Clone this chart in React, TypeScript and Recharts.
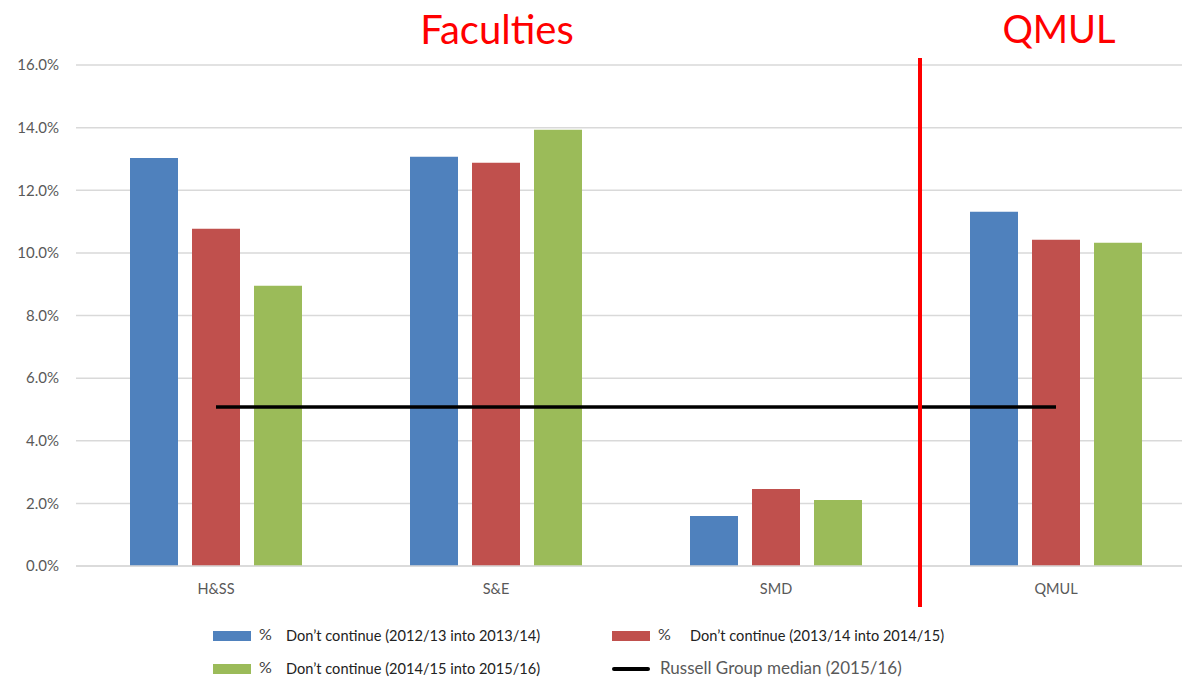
import { ComposedChart, Bar, Line, XAxis, YAxis, CartesianGrid } from 'recharts'

const CATEGORIES = ['H&SS', 'S&E', 'SMD', 'QMUL']
const CONT_2012 = [13.03, 13.07, 1.6, 11.31]
const CONT_2013 = [10.77, 12.88, 2.46, 10.42]
const CONT_2014 = [8.95, 13.93, 2.11, 10.32]
const RG_MEDIAN = [5.08, 5.08, 5.08, 5.08]
const Y_TICKS = [0, 2, 4, 6, 8, 10, 12, 14, 16]

const BLUE = '#4f81bd'
const RED = '#c0504d'
const GREEN = '#9bbb59'
const FONT = 'Lato, "Open Sans", sans-serif'

const data = CATEGORIES.map((name, i) => ({
  name,
  c2012: CONT_2012[i],
  c2013: CONT_2013[i],
  c2014: CONT_2014[i],
  median: RG_MEDIAN[i],
}))

function LegendItem({ x, y, swatch, pct, label, labelX, line }: any) {
  return (
    <>
      {line ? (
        <div style={{ position: 'absolute', left: x, top: y - 2, width: 38, height: 4, background: '#000', borderRadius: 2 }} />
      ) : (
        <div style={{ position: 'absolute', left: x, top: y - 5, width: 38, height: 10, background: swatch }} />
      )}
      {pct && (
        <span style={{ position: 'absolute', left: x + 46, top: y - 12, fontSize: 16, color: '#404040' }}>%</span>
      )}
      <span
        style={{
          position: 'absolute',
          left: labelX,
          top: y - (line ? 12 : 9),
          fontSize: line ? 17 : 14.6,
          color: line ? '#595959' : '#222',
          whiteSpace: 'nowrap',
        }}
      >
        {label}
      </span>
    </>
  )
}

export default function App() {
  return (
    <div
      style={{
        position: 'fixed',
        left: 0,
        top: 0,
        width: 1182,
        height: 681,
        overflow: 'hidden',
        background: '#fff',
        fontFamily: FONT,
      }}
    >
      <ComposedChart
        width={1196}
        height={681}
        data={data}
        margin={{ top: 65, right: 0, bottom: 85, left: 0 }}
        barCategoryGap={54}
        barGap={14}
      >
        <CartesianGrid vertical={false} stroke="#d9d9d9" strokeWidth={1.5} />
        <XAxis
          dataKey="name"
          height={30}
          tickSize={0}
          tickMargin={18}
          axisLine={{ stroke: '#d9d9d9', strokeWidth: 1.5 }}
          tick={{ fill: '#595959', fontSize: 14.5, fontFamily: FONT }}
        />
        <YAxis
          width={76}
          domain={[0, 16]}
          ticks={Y_TICKS}
          tickFormatter={(v: number) => `${v.toFixed(1)}%`}
          axisLine={false}
          tickSize={0}
          tickMargin={17}
          tick={{ fill: '#595959', fontSize: 15, fontFamily: FONT }}
        />
        <Bar dataKey="c2012" fill={BLUE} isAnimationActive={false} />
        <Bar dataKey="c2013" fill={RED} isAnimationActive={false} />
        <Bar dataKey="c2014" fill={GREEN} isAnimationActive={false} />
        <Line
          dataKey="median"
          stroke="#000"
          strokeWidth={3.5}
          dot={false}
          activeDot={false}
          isAnimationActive={false}
        />
      </ComposedChart>

      {/* section titles */}
      <div style={{ position: 'absolute', left: 497, top: 5, transform: 'translateX(-50%)', color: '#ff0000', fontSize: 40 }}>
        Faculties
      </div>
      <div style={{ position: 'absolute', left: 1059, top: 5, transform: 'translateX(-50%)', color: '#ff0000', fontSize: 38 }}>
        QMUL
      </div>

      {/* divider between faculties and QMUL */}
      <div style={{ position: 'absolute', left: 918, top: 58, width: 4, height: 549, background: '#ff0000' }} />

      {/* legend */}
      <LegendItem x={213} y={636} swatch={BLUE} pct label="Don’t continue (2012/13 into 2013/14)" labelX={286} />
      <LegendItem x={612} y={636} swatch={RED} pct label="Don’t continue (2013/14 into 2014/15)" labelX={690} />
      <LegendItem x={213} y={669} swatch={GREEN} pct label="Don’t continue (2014/15 into 2015/16)" labelX={286} />
      <LegendItem x={612} y={669} line label="Russell Group median (2015/16)" labelX={660} />
    </div>
  )
}
